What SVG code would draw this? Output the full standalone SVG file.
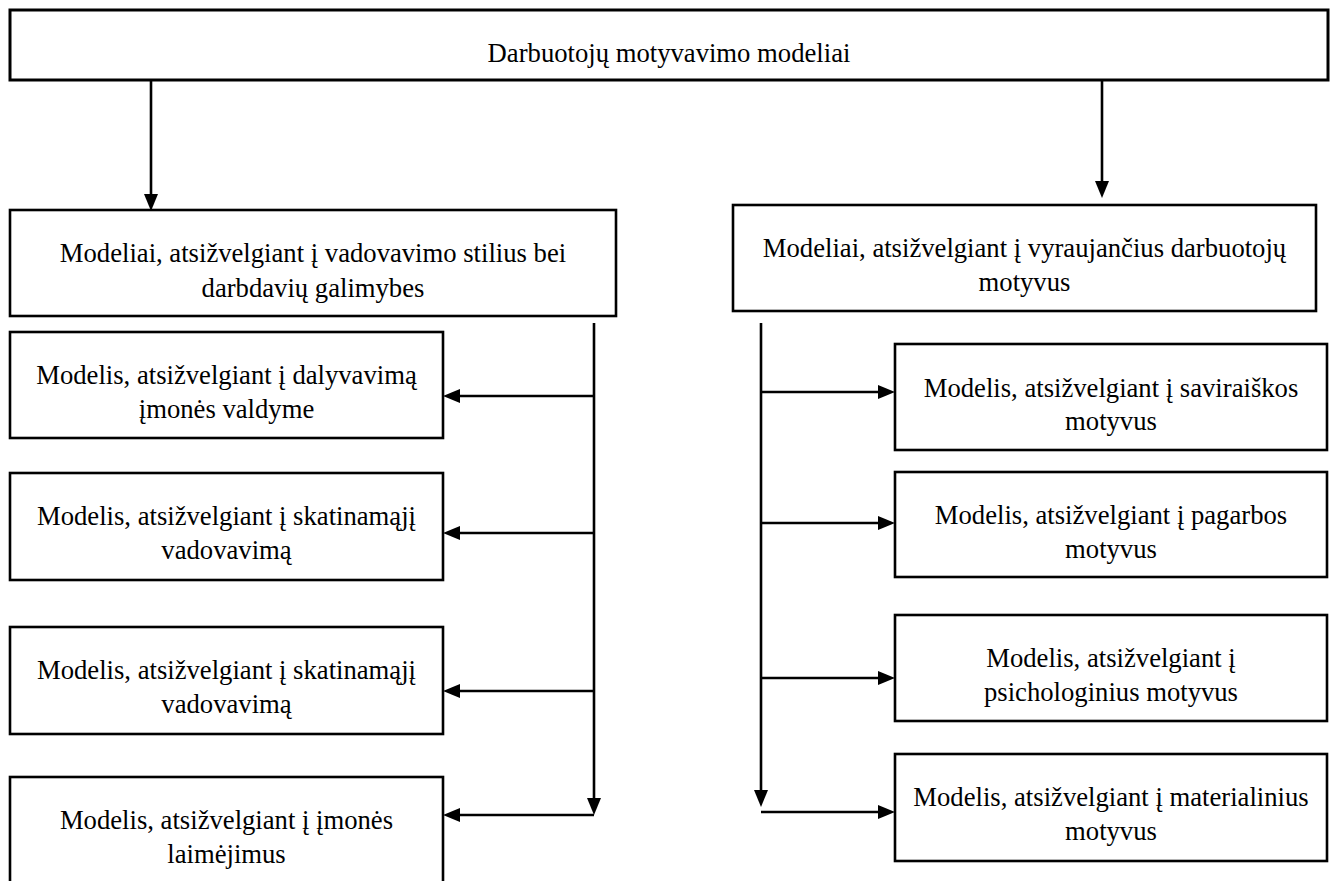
<svg xmlns="http://www.w3.org/2000/svg" width="1331" height="881" viewBox="0 0 1331 881">
  <style>
    .box { fill: #ffffff; stroke: #000000; stroke-width: 2.6; }
    .top { stroke-width: 3; }
    .t { font-family: 'Liberation Serif', 'DejaVu Serif', serif; font-size: 26.67px; fill: #000000; text-anchor: middle; }
    .c { stroke: #000000; stroke-width: 2.6; fill: none; }
    .a { marker-end: url(#arrow); }
  </style>
  <defs>
    <marker id="arrow" markerUnits="userSpaceOnUse" viewBox="0 0 17 14" markerWidth="17" markerHeight="14" refX="0" refY="7" orient="auto">
      <path d="M0,0 L17,7 L0,14 z" fill="#000000"/>
    </marker>
  </defs>
  <rect width="1331" height="881" fill="#ffffff"/>

  <g id="connectors">
    <line class="c a" x1="151" y1="80" x2="151" y2="194"/>
    <line class="c a" x1="1102" y1="80" x2="1102" y2="181"/>
    <line class="c a" x1="594" y1="323" x2="594" y2="798"/>
    <line class="c a" x1="594" y1="396" x2="460" y2="396"/>
    <line class="c a" x1="594" y1="533" x2="460" y2="533"/>
    <line class="c a" x1="594" y1="691" x2="460" y2="691"/>
    <line class="c a" x1="594" y1="815" x2="460" y2="815"/>
    <line class="c a" x1="761" y1="323" x2="761" y2="790"/>
    <line class="c a" x1="761" y1="392" x2="878" y2="392"/>
    <line class="c a" x1="761" y1="523" x2="878" y2="523"/>
    <line class="c a" x1="761" y1="678" x2="878" y2="678"/>
    <line class="c a" x1="761" y1="812" x2="878" y2="812"/>
  </g>

  <g id="root">
    <rect class="box top" x="10" y="10" width="1318" height="70"/>
    <text class="t" x="669" y="62">Darbuotojų motyvavimo modeliai</text>
  </g>

  <g id="left-main">
    <rect class="box" x="10" y="210" width="606" height="106"/>
    <text class="t" x="313" y="262">Modeliai, atsižvelgiant į vadovavimo stilius bei</text>
    <text class="t" x="313" y="297">darbdavių galimybes</text>
  </g>

  <g id="right-main">
    <rect class="box" x="733" y="205" width="583" height="106"/>
    <text class="t" x="1024.5" y="257">Modeliai, atsižvelgiant į vyraujančius darbuotojų</text>
    <text class="t" x="1024.5" y="291">motyvus</text>
  </g>

  <g id="left-1">
    <rect class="box" x="10" y="332" width="433" height="106"/>
    <text class="t" x="226.5" y="384">Modelis, atsižvelgiant į dalyvavimą</text>
    <text class="t" x="226.5" y="418">įmonės valdyme</text>
  </g>

  <g id="left-2">
    <rect class="box" x="10" y="473" width="433" height="107"/>
    <text class="t" x="226.5" y="525">Modelis, atsižvelgiant į skatinamąjį</text>
    <text class="t" x="226.5" y="559">vadovavimą</text>
  </g>

  <g id="left-3">
    <rect class="box" x="10" y="627" width="433" height="107"/>
    <text class="t" x="226.5" y="679">Modelis, atsižvelgiant į skatinamąjį</text>
    <text class="t" x="226.5" y="713">vadovavimą</text>
  </g>

  <g id="left-4">
    <rect class="box" x="10" y="777" width="433" height="120"/>
    <text class="t" x="226.5" y="829">Modelis, atsižvelgiant į įmonės</text>
    <text class="t" x="226.5" y="863">laimėjimus</text>
  </g>

  <g id="right-1">
    <rect class="box" x="895" y="344" width="432" height="106"/>
    <text class="t" x="1111" y="397">Modelis, atsižvelgiant į saviraiškos</text>
    <text class="t" x="1111" y="430">motyvus</text>
  </g>

  <g id="right-2">
    <rect class="box" x="895" y="472" width="432" height="105"/>
    <text class="t" x="1111" y="524">Modelis, atsižvelgiant į pagarbos</text>
    <text class="t" x="1111" y="558">motyvus</text>
  </g>

  <g id="right-3">
    <rect class="box" x="895" y="615" width="432" height="106"/>
    <text class="t" x="1111" y="667">Modelis, atsižvelgiant į</text>
    <text class="t" x="1111" y="701">psichologinius motyvus</text>
  </g>

  <g id="right-4">
    <rect class="box" x="895" y="754" width="432" height="107"/>
    <text class="t" x="1111" y="806">Modelis, atsižvelgiant į materialinius</text>
    <text class="t" x="1111" y="840">motyvus</text>
  </g>
</svg>
